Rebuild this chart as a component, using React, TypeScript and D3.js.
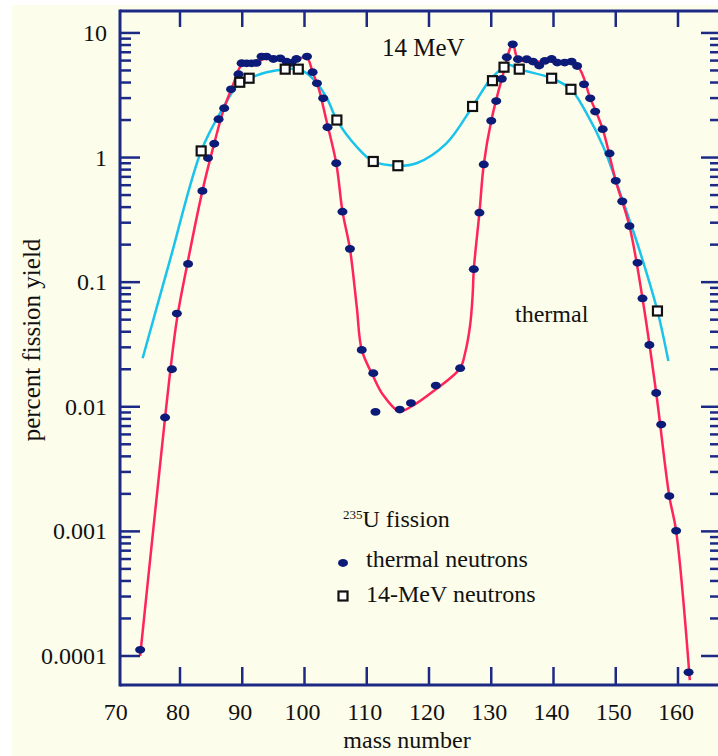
import React from "react";
import * as d3 from "d3";

// ---- data (mass number, percent fission yield) ----
const thermalMass = [73.6, 77.6, 78.7, 79.5, 81.3, 83.6, 84.5, 85.5, 86.2, 87.1, 88.2, 89.4, 89.9, 90.7, 91.5, 92.3, 93.1, 93.9, 95.0, 96.1, 97.1, 97.9, 98.7, 100.4, 101.3, 102.0, 103.0, 103.7, 105.1, 106.1, 107.3, 109.2, 111.05, 111.4, 115.3, 117.1, 121.1, 125.0, 127.2, 128.1, 128.8, 130.0, 130.8, 131.7, 132.5, 133.45, 134.3, 135.7, 136.7, 137.7, 138.6, 139.7, 140.6, 141.8, 142.9, 143.8, 144.9, 145.9, 146.7, 147.9, 149.0, 150.0, 151.05, 152.2, 153.5, 154.3, 155.4, 156.5, 157.3, 158.6, 159.7, 161.7];
const thermalYield = [0.000112, 0.0082, 0.020, 0.056, 0.14, 0.54, 0.99, 1.29, 2.03, 2.49, 3.53, 4.66, 5.71, 5.7, 5.7, 5.75, 6.46, 6.46, 6.18, 6.26, 5.89, 5.76, 6.18, 6.46, 4.84, 3.94, 2.99, 1.75, 0.90, 0.368, 0.185, 0.0286, 0.0186, 0.0091, 0.0095, 0.0107, 0.0148, 0.0204, 0.127, 0.361, 0.88, 1.97, 2.84, 4.28, 6.38, 8.11, 6.15, 6.15, 5.89, 5.47, 5.96, 6.18, 5.78, 5.78, 5.89, 5.43, 3.87, 2.99, 2.34, 1.69, 1.08, 0.65, 0.445, 0.282, 0.143, 0.074, 0.0313, 0.0129, 0.0072, 0.00192, 0.00101, 0.000074];

const mevMass = [83.4, 89.6, 91.1, 96.9, 99.0, 105.2, 111.05, 115.0, 127.0, 130.2, 132.05, 134.5, 139.7, 142.8, 156.7];
const mevYield = [1.13, 4.02, 4.33, 5.12, 5.12, 2.0, 0.93, 0.86, 2.57, 4.14, 5.31, 5.12, 4.33, 3.53, 0.0587];

const thermalCurveMass = [73.6, 75.7, 77.6, 79.5, 81.3, 83.6, 85.5, 87.1, 88.5, 89.6, 90.3, 92.5, 94, 96, 98, 100.3, 101.3, 102.2, 103.5, 105.1, 106.1, 107.3, 108.4, 109.2, 111.05, 112.6, 115.2, 117.1, 121.1, 125.0, 125.8, 126.6, 127.0, 127.2, 128.1, 128.8, 130.0, 131.7, 133.45, 134.3, 136, 140, 143.8, 145.9, 147.9, 150.0, 152.2, 154.3, 156.5, 158.6, 159.7, 161.9];
const thermalCurveYield = [0.0001, 0.00103, 0.0082, 0.05, 0.15, 0.54, 1.3, 2.5, 3.8, 5.3, 5.8, 5.9, 6.3, 6.2, 5.9, 6.4, 4.84, 3.7, 2.0, 0.9, 0.37, 0.185, 0.063, 0.0286, 0.0175, 0.0125, 0.0092, 0.0100, 0.0138, 0.0204, 0.027, 0.045, 0.077, 0.127, 0.361, 0.88, 1.97, 4.28, 8.11, 6.15, 5.9, 5.9, 5.43, 3.0, 1.69, 0.65, 0.282, 0.074, 0.0129, 0.00192, 0.00101, 0.000064];

const mevCurveMass = [74.0, 78.4, 83.4, 86.7, 89.6, 91.1, 93.9, 96.9, 99, 100.35, 102, 103.6, 105.2, 108.4, 111.05, 115, 118, 122.8, 127, 129.8, 132.05, 133, 134.5, 139.7, 142.8, 145.3, 148, 151.2, 153.9, 156.7, 158.45];
const mevCurveYield = [0.0245, 0.151, 1.13, 2.4, 4.02, 4.33, 4.84, 5.12, 5.12, 4.75, 3.94, 3.0, 2.0, 1.22, 0.93, 0.86, 0.90, 1.30, 2.57, 4.2, 5.31, 5.53, 5.12, 4.33, 3.53, 2.27, 1.22, 0.44, 0.175, 0.0587, 0.0233];

const xTicks = [70, 80, 90, 100, 110, 120, 130, 140, 150, 160];
const yTickValues = [10, 1, 0.1, 0.01, 0.001, 0.0001];
const yTickLabels = ["10", "1", "0.1", "0.01", "0.001", "0.0001"];

// ---- layout ----
const W = 718;
const H = 756;
const L = 120;
const R = 721;
const T = 11;
const B = 685;
const AXIS = "#1c2a86";
const DOT = "#0c1b78";
const RED = "#ff2459";
const CYAN = "#1ac3ec";
const FONT = "'Liberation Serif', 'Times New Roman', serif";

export default function App() {
  const x = d3.scaleLinear().domain([80, 160]).range([180, 678]);
  const y = d3.scaleLog().domain([5.85e-5, 15]).range([B, T]);

  const line = d3
    .line<[number, number]>()
    .x((d) => x(d[0]))
    .y((d) => y(d[1]))
    .curve(d3.curveCatmullRom.alpha(0.5));

  const thermalPath = line(thermalCurveMass.map((m, i) => [m, thermalCurveYield[i]]));
  const mevPath = line(mevCurveMass.map((m, i) => [m, mevCurveYield[i]]));

  const minor: number[] = [];
  for (let e = -4; e <= 0; e++) {
    for (let k = 2; k <= 9; k++) minor.push(k * Math.pow(10, e));
  }

  return (
    <svg
      width={W}
      height={H}
      style={{ position: "absolute", left: 0, top: 0, background: "#ffffff" }}
    >
      <rect x={12} y={5} width={W - 12} height={H - 5} fill="#fdfdeb" />

      {/* curves */}
      <path d={mevPath || ""} fill="none" stroke={CYAN} strokeWidth={2.5} />
      <path d={thermalPath || ""} fill="none" stroke={RED} strokeWidth={2.5} />

      {/* thermal points */}
      {thermalMass.map((m, i) => (
        <ellipse key={"t" + i} cx={x(m)} cy={y(thermalYield[i])} rx={5} ry={3.9} fill={DOT} />
      ))}
      {/* 14 MeV points */}
      {mevMass.map((m, i) => (
        <rect
          key={"m" + i}
          x={x(m) - 4.5}
          y={y(mevYield[i]) - 4.5}
          width={9}
          height={9}
          fill="#ffffff"
          stroke="#111111"
          strokeWidth={2.2}
        />
      ))}

      {/* frame */}
      <g stroke={AXIS} strokeWidth={3} fill="none">
        <line x1={L} y1={T} x2={R} y2={T} />
        <line x1={L} y1={B} x2={R} y2={B} />
        <line x1={L} y1={T - 1.5} x2={L} y2={B + 1.5} />
        <line x1={R} y1={T} x2={R} y2={B} />
      </g>
      {/* ticks */}
      <g stroke={AXIS} strokeWidth={2.5}>
        {xTicks.filter((v) => v > 70).map((v) => (
          <g key={"xt" + v}>
            <line x1={x(v)} x2={x(v)} y1={B} y2={B - 18} />
            <line x1={x(v)} x2={x(v)} y1={T} y2={T + 16} />
          </g>
        ))}
        {yTickValues.map((v) => (
          <g key={"yt" + v}>
            <line x1={L} x2={L + 20} y1={y(v)} y2={y(v)} />
            <line x1={R} x2={R - 20} y1={y(v)} y2={y(v)} />
          </g>
        ))}
        {minor.map((v) => (
          <g key={"ym" + v}>
            <line x1={L} x2={L + 11} y1={y(v)} y2={y(v)} />
            <line x1={R} x2={R - 11} y1={y(v)} y2={y(v)} />
          </g>
        ))}
      </g>

      {/* text */}
      <g fontFamily={FONT} fontSize={24} fill="#111">
        {xTicks.map((v) => (
          <text key={"xl" + v} x={(v === 70 ? 117.75 : x(v)) - 2} y={720} textAnchor="middle">
            {v}
          </text>
        ))}
        {yTickValues.map((v, i) => (
          <text key={"yl" + v} x={107} y={y(v) + 8} textAnchor="end">
            {yTickLabels[i]}
          </text>
        ))}
        <text x={407} y={748} textAnchor="middle">mass number</text>
        <text transform="translate(40,340) rotate(-90)" textAnchor="middle" fontSize={25}>percent fission yield</text>
        <text x={382} y={56} fontSize={25}>14 MeV</text>
        <text x={515} y={322}>thermal</text>
        <text x={343} y={527}>
          <tspan fontSize={13} dy={-8}>235</tspan>
          <tspan dy={8}>U fission</tspan>
        </text>
        <text x={366} y={567}>thermal neutrons</text>
        <text x={366} y={602}>14-MeV neutrons</text>
      </g>
      {/* legend markers */}
      <ellipse cx={343} cy={563} rx={5} ry={3.9} fill={DOT} />
      <rect x={338.5} y={591.5} width={9} height={9} fill="#fff" stroke="#111" strokeWidth={2.2} />
    </svg>
  );
}
